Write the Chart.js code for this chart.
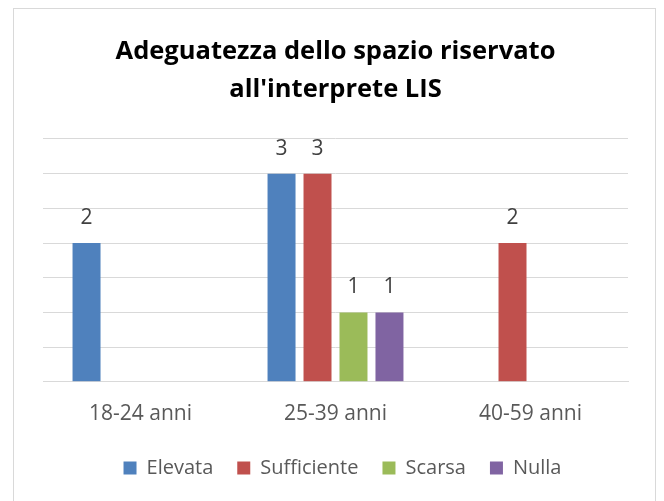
<!DOCTYPE html>
<html>
<head>
<meta charset="utf-8">
<script src="https://cdn.jsdelivr.net/npm/chart.js@4.4.0/dist/chart.umd.min.js"></script>
<style>
html,body{margin:0;padding:0;background:#fff;}
#wrap{position:relative;width:664px;height:501px;}
</style>
</head>
<body>
<div id="wrap"><canvas id="c" width="664" height="501"></canvas></div>
<script>
const categories = ['18-24 anni', '25-39 anni', '40-59 anni'];
const seriesNames = ['Elevata', 'Sufficiente', 'Scarsa', 'Nulla'];
const elevata = [2, 3, null];
const sufficiente = [null, 3, 2];
const scarsa = [null, 1, null];
const nulla = [null, 1, null];
const colors = ['#4f81bd', '#c0504d', '#9bbb59', '#8064a2'];
const titleLines = ['Adeguatezza dello spazio riservato', "all'interprete LIS"];

const FONT = "'Open Sans', 'Liberation Sans', sans-serif";

const frame = {
  id: 'frame',
  beforeDraw(chart) {
    const ctx = chart.ctx;
    ctx.save();
    ctx.fillStyle = '#fff';
    ctx.fillRect(0, 0, chart.width, chart.height);
    ctx.strokeStyle = '#d9d9d9';
    ctx.lineWidth = 1;
    ctx.strokeRect(13.5, 8.5, 642, 520);
    ctx.restore();
  }
};

const legendShift = {
  id: 'legendShift',
  afterLayout(chart) {
    const lg = chart.legend;
    if (lg) {
      lg.left += 7; lg.right += 7;
      lg.top -= 13; lg.bottom -= 13;
    }
  }
};

const valueLabels = {
  id: 'valueLabels',
  afterDatasetsDraw(chart) {
    const ctx = chart.ctx;
    ctx.save();
    ctx.font = '21px ' + FONT;
    ctx.fillStyle = '#404040';
    ctx.textAlign = 'center';
    ctx.textBaseline = 'middle';
    chart.data.datasets.forEach((ds, i) => {
      const meta = chart.getDatasetMeta(i);
      meta.data.forEach((el, j) => {
        const v = ds.data[j];
        if (v === null || v === undefined) return;
        ctx.fillText(String(v), el.x, el.y - 25);
      });
    });
    ctx.restore();
  }
};

const seriesData = [elevata, sufficiente, scarsa, nulla];

new Chart(document.getElementById('c'), {
  type: 'bar',
  data: {
    labels: categories,
    datasets: seriesNames.map((n, i) => ({
      label: n,
      data: seriesData[i],
      backgroundColor: colors[i],
      borderWidth: 0,
      categoryPercentage: 0.738,
      barPercentage: 0.778
    }))
  },
  options: {
    responsive: false,
    animation: false,
    devicePixelRatio: 1,
    layout: { padding: { left: 43, right: 36, top: 20, bottom: 0 } },
    plugins: {
      title: {
        display: true,
        text: titleLines,
        color: '#000',
        font: { family: FONT, size: 25.5, weight: 'bold', lineHeight: 1.49 },
        padding: { top: 13, bottom: 30 }
      },
      legend: {
        position: 'bottom',
        labels: {
          color: '#595959',
          font: { family: FONT, size: 20 },
          boxWidth: 13,
          boxHeight: 13,
          padding: 24
        }
      },
      tooltip: { enabled: false }
    },
    scales: {
      x: {
        grid: { display: false, drawTicks: false },
        border: { display: true, color: '#d9d9d9', width: 1 },
        ticks: { color: '#595959', font: { family: FONT, size: 21 }, padding: 20 }
      },
      y: {
        min: 0,
        max: 3.5,
        ticks: { display: false, stepSize: 0.5 },
        grid: { color: '#d9d9d9', lineWidth: 1, drawTicks: false },
        border: { display: false }
      }
    }
  },
  plugins: [frame, legendShift, valueLabels]
});
</script>
</body>
</html>
